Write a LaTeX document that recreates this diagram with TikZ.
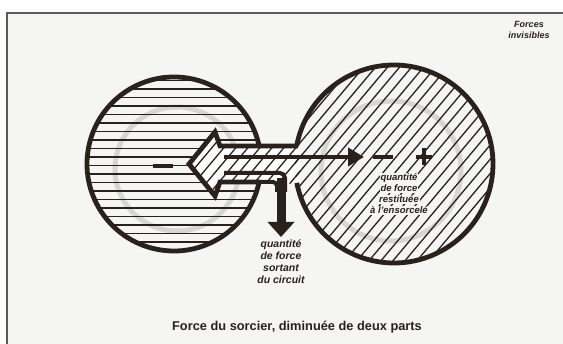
\documentclass[tikz,border=0pt]{standalone}
\usepackage{fontspec}
\setmainfont{Liberation Sans}
\usetikzlibrary{arrows.meta,positioning}
\definecolor{ink}{HTML}{2B211C}
\definecolor{ghost}{HTML}{D8D6D2}
\definecolor{rim}{HTML}{5A5A5A}
\definecolor{paper}{HTML}{F5F5F3}
\tikzset{
  outline/.style={draw=ink,line width=4.8pt},
  hatch/.style={draw=ink,line width=1.3pt},
  flow/.style={draw=ink,line width=4pt},
  ring/.style={draw=ghost,line width=5pt},
  note/.style={font=\bfseries\itshape\fontsize{9.5}{11}\selectfont,text=ink,align=center,inner sep=0pt},
  knock/.style={note,fill=paper,inner sep=0.7pt,anchor=base},
}
\begin{document}
\begin{tikzpicture}[x=1pt,y=-1pt]
\useasboundingbox (0,0) rectangle (563,344);
\fill[white] (0,0) rectangle (563,344);
\fill[paper] (7,13) rectangle (563,344);
% cadre de la page
\draw[rim,line width=2pt] (563,13) -- (7,13) -- (7,344);

\coordinate (sorcier) at (174,164);
\coordinate (ensorcele) at (394,164);

% anneaux fantomes
\draw[ring] (177,169) circle[radius=62];
\draw[ring] (391,171) circle[radius=70];

% hachures du sorcier
\begin{scope}
  \clip (sorcier) circle[radius=87];
  \foreach \y in {80.5,89,...,250}
    \draw[hatch] (80,\y) -- (270,\y);
\end{scope}

% canal et fleche
\fill[white] (300,146) -- (220,146) -- (215,132) -- (189,164) -- (215,196) -- (220,182) -- (300,184) -- cycle;
\begin{scope}
  \clip (300,146) -- (220,146) -- (215,132) -- (189,164) -- (215,196) -- (220,182) -- (300,184) -- cycle;
  \foreach \c in {-60,-48,...,480}
    \draw[hatch] (\c,300) -- ++(252,-300);
\end{scope}
\begin{scope}
  \clip (ensorcele) circle[radius=99];
  \foreach \c in {-60,-48,...,480}
    \draw[hatch] (\c,300) -- ++(252,-300);
\end{scope}

% contours
\draw[outline] (sorcier) ++(12:87) arc[start angle=12,end angle=348,radius=87];
\draw[outline] (ensorcele) ++(190.5:99) arc[start angle=190.5,end angle=529,radius=99];
\draw[outline,line join=miter] (298,146) -- (220,146) -- (215,132) -- (189,164) -- (215,196) -- (220,182) -- (260,182);

% flux interieurs
\coordinate (depart) at (224,157);
\coordinate (retour) at (364,157);
\coordinate (coude) at (281,178);
\coordinate (sortie) at (281,237);
\draw[flow,-{Triangle[length=16pt,width=18pt]}] (depart) -- (retour);
\draw[flow,rounded corners=5pt] (224,173) -- (285,173) -- (285,192);
\draw[flow,rounded corners=4pt] (256,182) -- (277,182) -- (277,192);
\draw[draw=ink,line width=9pt,-{Triangle[length=15pt,width=26pt]}] (coude) -- (sortie);

% signes
\draw[flow] (153,166) -- (173,166);
\draw[flow] (373,157) -- (393,157);
\draw[flow] (416,157) -- (432,157);
\draw[flow] (424,148) -- (424,165);

% textes
\node[knock] (rest1) at (399,181) {quantité};
\node[knock] (rest2) at (399,192) {de force};
\node[knock] (rest3) at (399,203) {restituée};
\node[knock] (rest4) at (399,214) {à l'ensorcelé};
\node[note,font=\bfseries\itshape\fontsize{10.5}{12}\selectfont,below=3pt of sortie] (sortant) {quantité\\de force\\sortant\\du circuit};
\node[note,font=\bfseries\itshape\fontsize{9}{10.5}\selectfont] (invisibles) at (529,30) {Forces\\invisibles};
\node[font=\bfseries\fontsize{12.8}{14}\selectfont,text=ink,inner sep=0pt] (titre) at (297,327) {Force du sorcier, diminuée de deux parts};
\end{tikzpicture}
\end{document}
